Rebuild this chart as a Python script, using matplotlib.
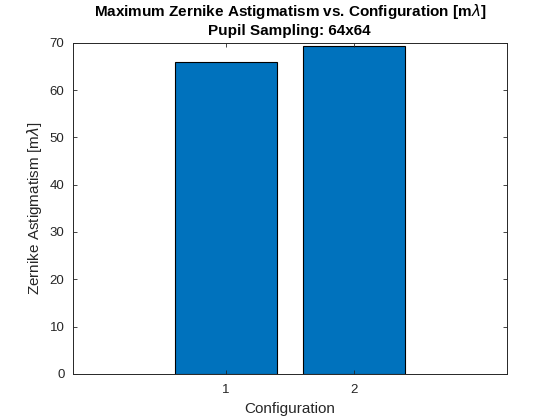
import matplotlib
matplotlib.use("Agg")
import matplotlib.pyplot as plt

# configuration index and max astigmatism values [m lambda]
configs = [1, 2]
astig_values = [66.0, 69.4]
y_ticks = [0, 10, 20, 30, 40, 50, 60, 70]

plt.rcParams['font.family'] = ['Liberation Sans', 'DejaVu Sans']

fig = plt.figure(figsize=(5.6, 4.2), dpi=100)
ax = fig.add_axes([0.13, 0.11, 0.775, 0.788])

ax.bar(configs, astig_values, width=0.8, color='#0072BD', edgecolor='black', linewidth=0.8)

ax.set_xlim(-0.2, 3.2)
ax.set_ylim(0, 70)
ax.set_xticks(configs)
ax.set_yticks(y_ticks)
ax.tick_params(direction='in', top=True, right=True, labelsize=9.5, colors='#262626', length=3, width=0.6)
ax.tick_params(axis='x', pad=7)
ax.tick_params(axis='y', pad=6)
for spine in ax.spines.values():
    spine.set_color('#262626')
    spine.set_linewidth(0.7)

ax.set_xlabel('Configuration', fontsize=11, color='#262626', labelpad=5)
ax.set_ylabel(r'Zernike Astigmatism [m$\lambda$]', fontsize=11, color='#262626')
ax.set_title('Maximum Zernike Astigmatism vs. Configuration [m$\\lambda$]\nPupil Sampling: 64x64',
             fontsize=11, fontweight='bold', pad=6)

fig.savefig('out.png', dpi=100)
